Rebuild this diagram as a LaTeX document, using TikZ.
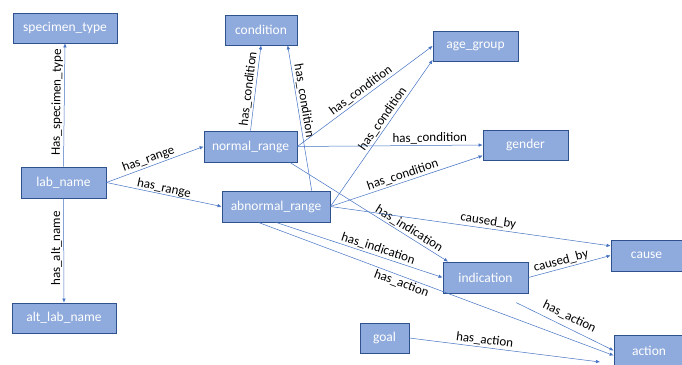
\documentclass[tikz,border=0pt]{standalone}
\usepackage{fontspec}
\setmainfont{Carlito}
\usetikzlibrary{arrows.meta}
\definecolor{boxfill}{RGB}{143,170,220}
\definecolor{boxline}{RGB}{47,82,143}
\definecolor{edgeblue}{RGB}{68,114,196}
\begin{document}
\begin{tikzpicture}[x=1pt,y=-1pt,
  box/.style={draw=boxline, fill=boxfill, line width=0.8pt, text=white,
    font=\fontsize{13.5}{16}\selectfont, inner sep=0pt, minimum height=31pt},
  rel/.style={draw=edgeblue, line width=0.5pt, -{Latex[length=4pt,width=3.5pt]}},
  lbl/.style={font=\fontsize{13}{15}\selectfont, text=black, inner sep=1.5pt},
  slbl/.style={lbl, sloped}]
\useasboundingbox (0,0) rectangle (682,364);
\fill[white] (0,0) rectangle (682,364);

\node[box, minimum width=104pt, minimum height=30pt] (specimen) at (65,28) {specimen\_type};
\node[box, minimum width=72pt, minimum height=30pt] (condition) at (261,30) {condition};
\node[box, minimum width=85pt, minimum height=30pt] (age) at (475.5,46) {age\_group};
\node[box, minimum width=85pt, minimum height=30pt] (gender) at (525.5,145) {gender};
\node[box, minimum width=93pt] (normal) at (250.5,146.5) {normal\_range};
\node[box, minimum width=85pt] (lab) at (63.5,182.5) {lab\_name};
\node[box, minimum width=104pt, minimum height=30pt] (alt) at (64,318) {alt\_lab\_name};
\node[box, minimum width=108pt] (abnormal) at (276,206.5) {abnormal\_range};
\node[box, minimum width=49pt, minimum height=30pt] (goal) at (384.5,338) {goal};
\node[box, minimum width=85pt] (indication) at (485.5,277.5) {indication};
\node[box, minimum width=71pt] (cause) at (646.5,255.5) {cause};
\node[box, minimum width=70pt] (action) at (649,350.5) {action};
\coordinate (goalend) at (600,362);

\draw[rel] (lab.north) -- node[slbl, above, pos=0.52] (l1) {Has\_specimen\_type} (specimen.south);
\draw[rel] (lab.south) -- node[lbl, rotate=90, anchor=south, pos=0.48] (l2) {has\_alt\_name} (alt.north);
\draw[rel] (lab.east) -- node[slbl, above, pos=0.46] (l3) {has\_range} (normal.west);
\draw[rel] (lab.east) -- node[slbl, above, pos=0.49, inner sep=0pt] (l4) {has\_range} (abnormal.west);
\draw[rel] (normal.north) -- node[slbl, above, pos=0.48] (l5) {has\_condition} (condition.south);
\draw[rel] (abnormal.24) -- node[slbl, above, pos=0.61] (l6) {has\_condition} (condition.-30);
\draw[rel] (normal.east) -- node[slbl, above, pos=0.5] (l7) {has\_condition} (age.west);
\draw[rel] (abnormal.east) -- node[slbl, above, pos=0.57] (l8) {has\_condition} (age.198);
\draw[rel] (normal.east) -- node[slbl, above, pos=0.715] (l9) {has\_condition} (gender.west);
\draw[rel] (abnormal.east) -- node[slbl, above, pos=0.49] (l10) {has\_condition} (gender.194);
\draw[rel] (normal.-22) -- node[slbl, above, pos=0.73] (l11) {has\_indication} (indication.157);
\draw[rel] (abnormal.south) -- node[slbl, above, pos=0.6] (l12) {has\_indication} (indication.west);
\draw[rel] (abnormal.east) -- node[slbl, above, pos=0.56] (l13) {caused\_by} (cause.165);
\draw[rel] (indication.east) -- node[slbl, above, pos=0.42] (l14) {caused\_by} (cause.west);
\draw[rel] (abnormal.222) -- node[slbl, below, pos=0.41] (l15) {has\_action} (action.188);
\draw[rel, shorten <=21pt] (indication.-53) -- node[slbl, above, pos=0.58, inner sep=5pt] (l16) {has\_action} (action.west);
\draw[rel] (goal.east) -- node[slbl, above, pos=0.39] (l17) {has\_action} (goalend);
\end{tikzpicture}
\end{document}
